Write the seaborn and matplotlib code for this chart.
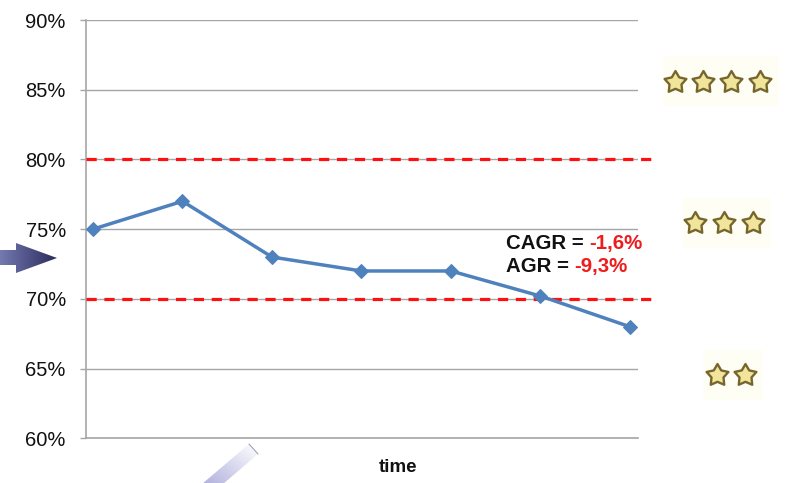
import numpy as np
import pandas as pd
import matplotlib
matplotlib.use("Agg")
import matplotlib.pyplot as plt
from matplotlib.path import Path
from matplotlib.patches import Polygon, Rectangle
from matplotlib.ticker import FuncFormatter, MultipleLocator
import seaborn as sns

# ---- data -------------------------------------------------------------
period = [0, 1, 2, 3, 4, 5, 6]
share = [75.0, 77.0, 73.0, 72.0, 72.0, 70.2, 68.0]
upper_band = 80.0
lower_band = 70.0
y_ticks = [60, 65, 70, 75, 80, 85, 90]
cagr_label = "-1,6%"
agr_label = "-9,3%"
x_title = "time"

# ---- styling ----------------------------------------------------------
sns.set_theme(style="white")
plt.rcParams["font.family"] = ["Liberation Sans", "DejaVu Sans"]

W, H = 788, 483
fig = plt.figure(figsize=(W / 100, H / 100), dpi=100)
fig.patch.set_facecolor("white")


def fx(x):
    return x / W


def fy(y):
    return 1 - y / H


ax_l, ax_r, ax_t, ax_b = 86, 638, 20, 438.3
ax = fig.add_axes([fx(ax_l), fy(ax_b), (ax_r - ax_l) / W, (ax_b - ax_t) / H])
ax.set_facecolor("none")

df = pd.DataFrame({"period": period, "share": share})
sns.lineplot(data=df, x="period", y="share", ax=ax, color="#4F81BD",
             linewidth=2.5, marker="D", markersize=7.5,
             markeredgecolor="#4F81BD", zorder=4)

ax.set_xlim(-0.078, 6.09)
ax.set_ylim(y_ticks[0], y_ticks[-1])
ax.yaxis.set_major_locator(MultipleLocator(5))
ax.yaxis.set_major_formatter(FuncFormatter(lambda v, _: f"{v:.0f}%"))
ax.set_xticks([])
ax.set_xlabel("")
ax.set_ylabel("")

grid_c = "#A6A6A6"
ax.grid(axis="y", color=grid_c, linewidth=1.0)
ax.grid(axis="x", visible=False)
for s in ["top", "right"]:
    ax.spines[s].set_visible(False)
for s in ["left", "bottom"]:
    ax.spines[s].set_color(grid_c)
    ax.spines[s].set_linewidth(1.2)
ax.tick_params(axis="y", left=True, length=4.5, width=1.0, color=grid_c,
               pad=10, labelsize=14.5, labelcolor="#111111")

# threshold bands, running slightly past the plot area
for level in (upper_band, lower_band):
    ax.plot([-0.078, 6.235], [level, level], color="#FF1010", linewidth=2.3,
            linestyle=(0, (3.2, 2.4)), clip_on=False, zorder=3)

# growth annotation
fs = 14.7
t1 = fig.text(fx(506), fy(249), "CAGR = ", fontsize=fs, weight="bold",
              color="#111111", va="baseline", ha="left")
ax.annotate(cagr_label, xy=(1, 0), xycoords=t1, va="bottom", ha="left",
            fontsize=fs, weight="bold", color="#EE1C1C",
            annotation_clip=False)
t2 = fig.text(fx(506), fy(272), "AGR = ", fontsize=fs, weight="bold",
              color="#111111", va="baseline", ha="left")
ax.annotate(agr_label, xy=(1, 0), xycoords=t2, va="bottom", ha="left",
            fontsize=fs, weight="bold", color="#EE1C1C",
            annotation_clip=False)

fig.text(fx(398), fy(467), x_title, fontsize=13.5, weight="bold",
         color="#111111", ha="center", va="center")

# ---- decorations in pixel space --------------------------------------
ov = fig.add_axes([0, 0, 1, 1], zorder=5)
ov.set_xlim(0, W)
ov.set_ylim(H, 0)
ov.axis("off")
ov.patch.set_alpha(0)


def gradient_fill(verts, c0, c1, direction):
    """Fill a polygon with a linear gradient; direction is in screen
    pixels (x right, y down), going from c0 to c1."""
    poly = Polygon(verts, closed=True, facecolor="none", edgecolor="none")
    ov.add_patch(poly)
    xs = [v[0] for v in verts]
    ys = [v[1] for v in verts]
    x0, x1, y0, y1 = min(xs), max(xs), min(ys), max(ys)
    n = 200
    gx, gy = np.meshgrid(np.linspace(0, 1, n), np.linspace(0, 1, n))
    d = np.array(direction, float)
    d /= np.linalg.norm(d)
    t = gx * d[0] * (x1 - x0) + gy * d[1] * (y1 - y0)
    t = (t - t.min()) / (t.max() - t.min())
    c0 = np.array(matplotlib.colors.to_rgb(c0))
    c1 = np.array(matplotlib.colors.to_rgb(c1))
    img = c0[None, None, :] * (1 - t[..., None]) + c1[None, None, :] * t[..., None]
    # row 0 sits at the smallest pixel y (top of the screen)
    im = ov.imshow(img, extent=(x0, x1, y1, y0), origin="upper",
                   interpolation="bilinear", aspect="auto", zorder=2)
    im.set_clip_path(poly)


# pointer arrow on the left
arrow = [(0, 250), (16, 250), (16, 243), (57, 258), (16, 273),
         (16, 265), (0, 265)]
gradient_fill(arrow, "#7479b0", "#2b2c5c", (1, 0))

# light diagonal streak near the bottom
streak = [(202, 484), (249, 444), (258, 454), (223, 484)]
gradient_fill(streak, "#ffffff", "#b0b0dc", (-0.77, 1))
ov.plot([249, 258], [444, 454], color="#a0a0c0", linewidth=0.8, zorder=3)


# rating stars
def star_path(inner=0.5):
    ang = np.pi / 2 + np.arange(10) * np.pi / 5
    r = np.where(np.arange(10) % 2 == 0, 1.0, inner)
    v = np.column_stack([r * np.cos(ang), r * np.sin(ang)])
    v = np.vstack([v, v[:1]])
    codes = [Path.MOVETO] + [Path.LINETO] * 9 + [Path.CLOSEPOLY]
    return Path(v, codes)


star = star_path(0.55)
rows = [
    ([675, 703, 731, 760], 82, (663, 56, 116, 50)),
    ([695, 724, 753], 223, (683, 198, 88, 50)),
    ([717, 745], 375, (703, 350, 60, 50)),
]
for xs, y, box in rows:
    bx, by, bw, bh = box
    ov.add_patch(Rectangle((bx, by), bw, bh, facecolor="#fffef5",
                           edgecolor="none", zorder=1))
    ov.plot(xs, [y] * len(xs), linestyle="none", marker=star,
            markersize=16.5, markerfacecolor="#F1E59C",
            markeredgecolor="#76662E", markeredgewidth=1.7, zorder=4)

fig.savefig("out.png", dpi=100, facecolor="white")
